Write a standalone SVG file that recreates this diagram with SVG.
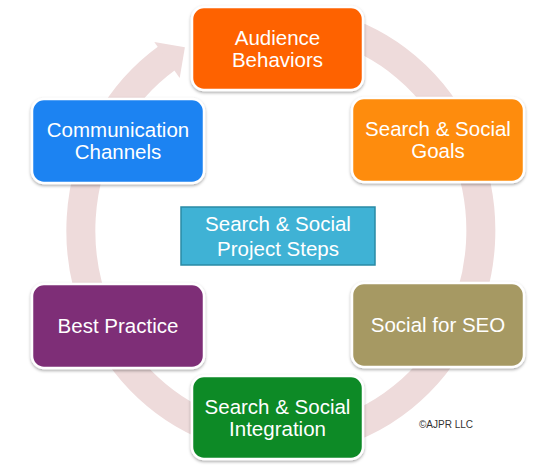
<svg xmlns="http://www.w3.org/2000/svg" width="560" height="468" viewBox="0 0 560 468">
<defs>
<filter id="sh" x="-10%" y="-10%" width="120%" height="130%">
<feDropShadow dx="0" dy="1.5" stdDeviation="1.5" flood-color="#000" flood-opacity="0.35"/>
</filter>
</defs>
<style>
.node{stroke:#fff;stroke-width:2.5;filter:url(#sh)}
.t{font-family:"Liberation Sans",Arial,sans-serif;font-size:20.5px;fill:#fff;text-anchor:middle}
.ring{fill:none;stroke:#EEDBDB;stroke-width:29}
.head{fill:#EEDBDB}
.copy{font-family:"Liberation Sans",Arial,sans-serif;font-size:10px;fill:#333}
</style>
<rect width="560" height="468" fill="#fff"/>
<g id="connectors">
<path class="ring" d="M 330 27.1 A 200 210 0 1 1 167 58"/>
<polygon class="head" points="154.3,42.1 184.9,47.3 179.7,77.9"/>
</g>
<g id="audience">
<rect class="node" x="192" y="7" width="171" height="83" rx="12" fill="#FE6203"/>
<text class="t" x="277.5" y="45">Audience</text>
<text class="t" x="277.5" y="67">Behaviors</text>
</g>
<g id="communication">
<rect class="node" x="32" y="99" width="172" height="84" rx="12" fill="#1C83F2"/>
<text class="t" x="118" y="137">Communication</text>
<text class="t" x="118" y="159">Channels</text>
</g>
<g id="goals">
<rect class="node" x="352" y="98" width="172" height="84" rx="12" fill="#FE8C0A"/>
<text class="t" x="438" y="136">Search &amp; Social</text>
<text class="t" x="438" y="158">Goals</text>
</g>
<g id="best">
<rect class="node" x="32" y="284" width="172" height="84" rx="12" fill="#7E2F77"/>
<text class="t" x="118" y="333">Best Practice</text>
</g>
<g id="seo">
<rect class="node" x="352" y="283" width="172" height="84" rx="12" fill="#A69963"/>
<text class="t" x="438" y="332">Social for SEO</text>
</g>
<g id="integration">
<rect class="node" x="192" y="376" width="171" height="83" rx="12" fill="#0C8A27"/>
<text class="t" x="277.5" y="414">Search &amp; Social</text>
<text class="t" x="277.5" y="436">Integration</text>
</g>
<g id="center">
<rect x="181" y="207" width="194" height="58" fill="#3FB2D5" stroke="#2A8AA5" stroke-width="1.5"/>
<text class="t" x="278" y="231">Search &amp; Social</text>
<text class="t" x="278" y="256">Project Steps</text>
</g>
<text class="copy" x="419" y="428">©AJPR LLC</text>
</svg>
